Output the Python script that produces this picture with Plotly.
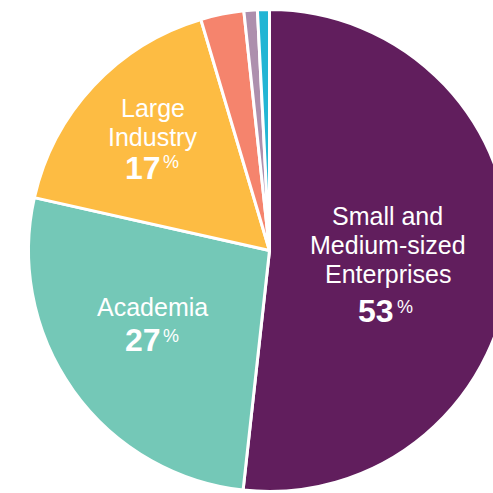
import plotly.graph_objects as go

# ---- data ----
categories = ["Small and Medium-sized Enterprises", "Academia", "Large Industry",
              "Other A", "Other B", "Other C"]
values = [51.8, 26.8, 16.9, 2.9, 0.9, 0.8]
colors = ["#611E5D", "#74C8B7", "#FDBC43", "#F5846D", "#AD8FAD", "#22B5D4"]
label_lines = [["Small and", "Medium-sized", "Enterprises"], ["Academia"], ["Large", "Industry"]]
label_pcts = ["53", "27", "17"]

W, H = 520, 493
FONT = "Liberation Sans, Arial, Helvetica, sans-serif"


def px(x):
    return x / W


def py(y):
    return 1 - y / H


fig = go.Figure(go.Pie(
    labels=categories, values=values, sort=False, direction="clockwise", rotation=0,
    marker=dict(colors=colors, line=dict(color="white", width=3)),
    textinfo="none", textposition="none", hoverinfo="label+percent", showlegend=False,
    domain=dict(x=[px(28.5), px(510.5)], y=[1.5 / H, 483.5 / H]),
))

# label layout: (center x, [line cap-centre y], digits right x, digits centre y, % left x, % centre y)
layout_pos = [
    (387.5, [216.5, 245, 273.5], 394, 310.8, 396.7, 307),
    (152, [306.7], 161.3, 339.5, 163.3, 336),
    (152.5, [108.5, 137], 160.7, 168.3, 163.3, 162),
]

annotations = []
for lines, pct, (cx, ys, dx, dy, qx, qy) in zip(label_lines, label_pcts, layout_pos):
    for t, yy in zip(lines, ys):
        annotations.append(dict(x=px(cx), y=py(yy), xref="paper", yref="paper", text=t,
                                showarrow=False, xanchor="center", yanchor="middle",
                                borderpad=0, borderwidth=0,
                                font=dict(family=FONT, size=25, color="white")))
    annotations.append(dict(x=px(dx), y=py(dy), xref="paper", yref="paper", text="<b>%s</b>" % pct,
                            showarrow=False, xanchor="right", yanchor="middle",
                            borderpad=0, borderwidth=0,
                            font=dict(family=FONT, size=32, color="white")))
    annotations.append(dict(x=px(qx), y=py(qy), xref="paper", yref="paper", text="%",
                            showarrow=False, xanchor="left", yanchor="middle",
                            borderpad=0, borderwidth=0,
                            font=dict(family=FONT, size=18, color="white")))

fig.update_layout(width=W, height=H, margin=dict(l=0, r=0, t=0, b=0),
                  paper_bgcolor="white", plot_bgcolor="white", annotations=annotations)

fig.write_html("out.html", config={"displayModeBar": False}, post_script=(
    "document.body.style.margin='0';document.body.style.overflow='hidden';"
    "document.documentElement.style.overflow='hidden';"))
